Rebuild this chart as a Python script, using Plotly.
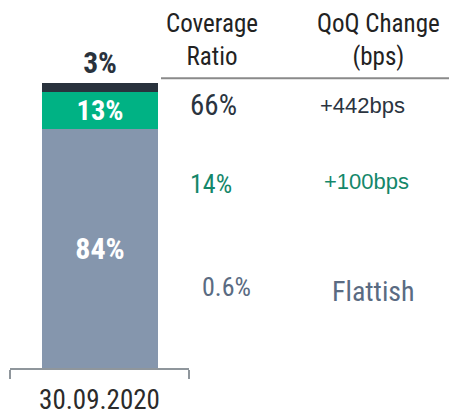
import plotly.graph_objects as go

# ---- data -------------------------------------------------------------
categories = ["30.09.2020"]
segment_names = ["Stage 1", "Stage 2", "Stage 3"]          # bottom -> top
segment_shares = [84, 13, 3]                                # % of book
segment_colors = ["#8596ad", "#00b284", "#29323d"]

table_headers = ["Coverage<br>Ratio", "QoQ Change<br>(bps)"]
coverage_ratio = ["0.6%", "14%", "66%"]                     # bottom -> top row
qoq_change = ["Flattish", "+100bps", "+442bps"]
row_colors = ["#5a6b82", "#14876a", "#2b3440"]

# ---- geometry (pixels in a 454x419 canvas) ----------------------------
W, H = 454, 419
PL, PR, PT, PB = 10, 189, 83, 368          # plot-area edges


def fx(px):
    return (px - PL) / (PR - PL)


def fy(py):
    return (PB - py) / (PB - PT)


NARROW = "Roboto Condensed, Liberation Sans, sans-serif"
REGULAR = "Liberation Sans, Arial, sans-serif"

fig = go.Figure()

x_pos = list(range(len(categories)))
label_sizes = [30, 28.5, 29.5]
for i, (name, share, color) in enumerate(zip(segment_names, segment_shares, segment_colors)):
    top = i == len(segment_shares) - 1
    fig.add_trace(go.Bar(
        x=x_pos, y=[share], name=name,
        marker=dict(color=color, line=dict(width=0)),
        width=0.648,
        text=[f"{share}%"],
        textposition="outside" if top else "inside",
        insidetextanchor="middle",
        constraintext="none",
        cliponaxis=False,
        textfont=dict(family=NARROW, size=label_sizes[i], weight="bold",
                      color=color if top else "white"),
        showlegend=False, hoverinfo="skip",
    ))

# table headers
header_x = [212, 378]
for hx, txt in zip(header_x, table_headers):
    fig.add_annotation(x=fx(hx), y=fy(40.5), xref="paper", yref="paper",
                       text=txt, showarrow=False, xanchor="center", yanchor="middle",
                       align="center",
                       font=dict(family=NARROW, size=25, color="#222222"))

fig.add_shape(type="line", xref="paper", yref="paper",
              x0=fx(161), x1=fx(449), y0=fy(78.3), y1=fy(78.3),
              line=dict(color="#8a8a8a", width=2))

# table body
cov_x = [226, 211, 214]
cov_y = [287, 184, 105]
cov_size = [26, 26, 29]
qoq_x = [373.5, 366, 362.5]
qoq_y = [291.5, 181, 105]
qoq_font = [(NARROW, 28), (REGULAR, 22), (REGULAR, 22)]

for i in range(len(coverage_ratio)):
    fig.add_annotation(x=fx(cov_x[i]), y=fy(cov_y[i]), xref="paper", yref="paper",
                       text=coverage_ratio[i], showarrow=False,
                       xanchor="center", yanchor="middle",
                       font=dict(family=NARROW, size=cov_size[i], color=row_colors[i]))
    fam, sz = qoq_font[i]
    fig.add_annotation(x=fx(qoq_x[i]), y=fy(qoq_y[i]), xref="paper", yref="paper",
                       text=qoq_change[i], showarrow=False,
                       xanchor="center", yanchor="middle",
                       font=dict(family=fam, size=sz, color=row_colors[i]))

fig.update_layout(
    width=W, height=H,
    margin=dict(l=PL, r=W - PR, t=PT, b=H - PB, pad=0, autoexpand=False),
    barmode="stack",
    bargap=0,
    plot_bgcolor="white", paper_bgcolor="white",
    xaxis=dict(
        range=[-0.5, 0.5], showgrid=False, zeroline=False, automargin=False,
        showline=True, linecolor="#8f969c", linewidth=2,
        tickmode="array", tickvals=x_pos, ticktext=categories,
        ticks="", ticklabelstandoff=7,
        tickfont=dict(family=NARROW, size=27, color="#2b2b2b"),
        minor=dict(tickmode="array", tickvals=[-0.5, 0.5], ticks="outside",
                   ticklen=9, tickwidth=2, tickcolor="#8f969c", showgrid=False),
        fixedrange=True,
    ),
    yaxis=dict(range=[0, 100], visible=False, fixedrange=True, automargin=False),
)

fig.write_html("out.html")
